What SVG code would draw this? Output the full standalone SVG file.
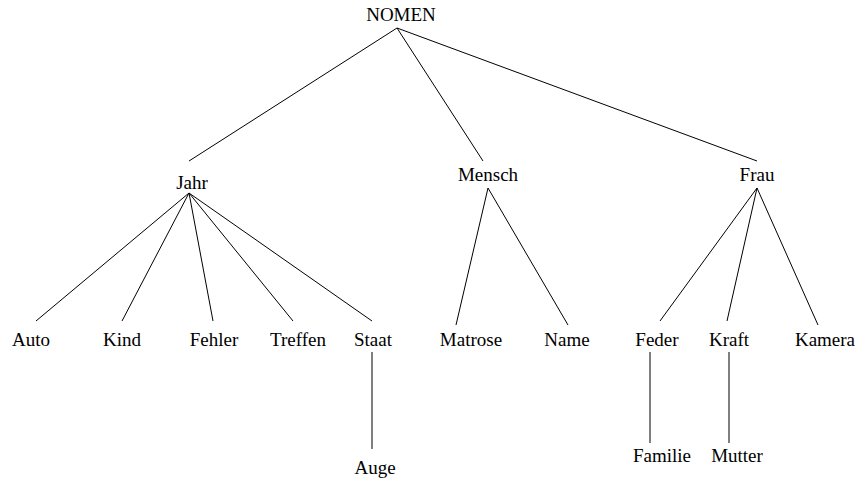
<svg xmlns="http://www.w3.org/2000/svg" width="858" height="479" viewBox="0 0 858 479">
<style>
text{font-family:"Liberation Serif","Times New Roman",serif;font-size:19px;fill:#000;text-anchor:middle}
#edges line{stroke:#000;stroke-width:1}
</style>
<rect width="858" height="479" fill="#fff"/>
<g id="edges">
<line x1="397" y1="28" x2="189" y2="161"/>
<line x1="397" y1="28" x2="483" y2="161"/>
<line x1="397" y1="28" x2="757" y2="161"/>
<line x1="189" y1="193" x2="36" y2="321"/>
<line x1="189" y1="193" x2="122" y2="321"/>
<line x1="189" y1="193" x2="213" y2="321"/>
<line x1="189" y1="193" x2="293" y2="321"/>
<line x1="189" y1="193" x2="372" y2="321"/>
<line x1="488" y1="188" x2="456" y2="325"/>
<line x1="488" y1="188" x2="568" y2="325"/>
<line x1="757" y1="188" x2="660" y2="321"/>
<line x1="757" y1="188" x2="727" y2="321"/>
<line x1="757" y1="188" x2="818" y2="325"/>
<line x1="372" y1="352" x2="372" y2="449"/>
<line x1="650" y1="352" x2="650" y2="443"/>
<line x1="729" y1="352" x2="729" y2="443"/>
</g>
<g id="n-nomen"><text x="401" y="21">NOMEN</text></g>
<g id="n-jahr"><text x="192" y="189">Jahr</text></g>
<g id="n-mensch"><text x="488" y="181">Mensch</text></g>
<g id="n-frau"><text x="757" y="181">Frau</text></g>
<g id="n-auto"><text x="31" y="346">Auto</text></g>
<g id="n-kind"><text x="122" y="346">Kind</text></g>
<g id="n-fehler"><text x="214" y="346">Fehler</text></g>
<g id="n-treffen"><text x="298" y="346">Treffen</text></g>
<g id="n-staat"><text x="373" y="346">Staat</text></g>
<g id="n-matrose"><text x="471" y="346">Matrose</text></g>
<g id="n-name"><text x="567" y="346">Name</text></g>
<g id="n-feder"><text x="657" y="346">Feder</text></g>
<g id="n-kraft"><text x="729" y="346">Kraft</text></g>
<g id="n-kamera"><text x="825" y="346">Kamera</text></g>
<g id="n-auge"><text x="375" y="474">Auge</text></g>
<g id="n-familie"><text x="662" y="462">Familie</text></g>
<g id="n-mutter"><text x="737" y="462">Mutter</text></g>
</svg>
